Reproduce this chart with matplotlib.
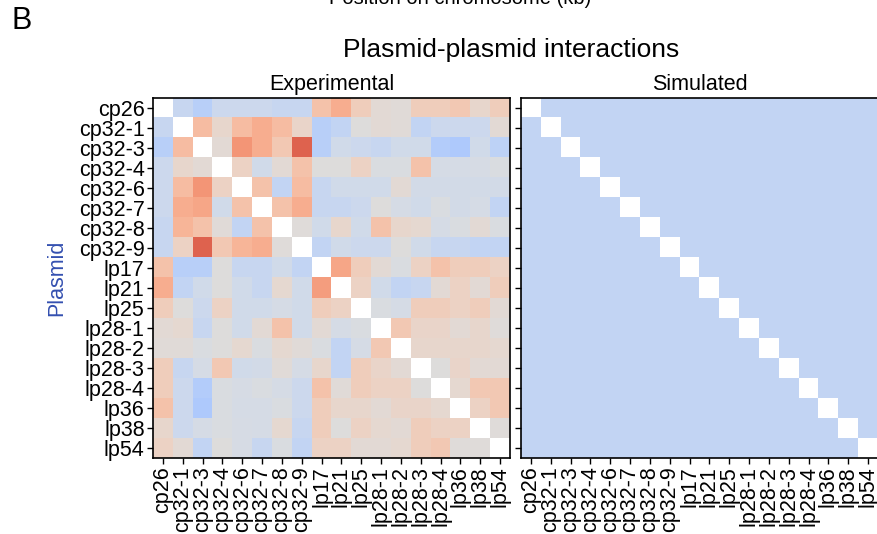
import matplotlib
matplotlib.use("Agg")
import matplotlib.pyplot as plt
import numpy as np
from matplotlib.colors import TwoSlopeNorm

plt.rcParams["font.family"] = ["Liberation Sans", "DejaVu Sans"]

PLASMIDS = ["cp26", "cp32-1", "cp32-3", "cp32-4", "cp32-6", "cp32-7", "cp32-8", "cp32-9",
            "lp17", "lp21", "lp25", "lp28-1", "lp28-2", "lp28-3", "lp28-4", "lp36", "lp38", "lp54"]

# experimental interaction scores (diagonal masked)
EXPERIMENTAL = [
    [np.nan, -0.25, -0.4, -0.2, -0.2, -0.2, -0.25, -0.25, 0.3, 0.45, 0.2, 0.05, 0.03, 0.2, 0.2, 0.25, 0.1, 0.2],
    [-0.25, np.nan, 0.35, 0.1, 0.35, 0.45, 0.35, 0.12, -0.4, -0.3, 0.0, 0.05, 0.03, -0.3, -0.2, -0.2, -0.2, 0.05],
    [-0.4, 0.35, np.nan, 0.05, 0.6, 0.45, 0.25, 0.85, -0.4, -0.15, -0.2, -0.25, -0.15, -0.15, -0.45, -0.5, -0.15, -0.35],
    [-0.2, 0.1, 0.05, np.nan, 0.15, -0.15, 0.05, 0.3, 0.0, 0.0, 0.15, -0.05, -0.05, 0.3, -0.1, -0.1, -0.08, -0.05],
    [-0.2, 0.35, 0.6, 0.15, np.nan, 0.3, -0.3, 0.35, -0.25, -0.15, -0.15, -0.15, 0.05, -0.12, -0.12, -0.12, -0.12, -0.12],
    [-0.2, 0.45, 0.5, -0.15, 0.3, np.nan, 0.3, 0.45, -0.25, -0.25, -0.2, 0.0, -0.1, -0.15, -0.05, -0.12, -0.1, -0.3],
    [-0.25, 0.4, 0.3, 0.03, -0.3, 0.3, np.nan, 0.02, -0.15, 0.1, -0.15, 0.3, 0.1, 0.08, -0.1, -0.05, 0.05, -0.05],
    [-0.25, 0.15, 0.85, 0.25, 0.4, 0.45, 0.02, np.nan, -0.3, -0.15, -0.2, -0.2, 0.0, -0.15, -0.25, -0.25, -0.3, -0.3],
    [0.3, -0.4, -0.4, 0.0, -0.25, -0.25, -0.15, -0.3, np.nan, 0.5, 0.2, 0.05, -0.05, 0.15, 0.3, 0.2, 0.2, 0.15],
    [0.45, -0.3, -0.15, 0.0, -0.15, -0.25, 0.08, -0.15, 0.55, np.nan, 0.15, -0.15, -0.3, -0.25, 0.05, 0.15, 0.05, 0.2],
    [0.2, 0.0, -0.2, 0.15, -0.15, -0.15, -0.1, -0.15, 0.2, 0.15, np.nan, -0.05, -0.1, 0.2, 0.2, 0.15, 0.2, 0.05],
    [0.05, 0.08, -0.25, 0.0, -0.15, 0.05, 0.3, -0.15, 0.05, -0.1, -0.05, np.nan, 0.25, 0.12, 0.12, 0.05, 0.1, 0.02],
    [0.03, 0.03, -0.05, 0.0, 0.08, -0.05, 0.08, 0.03, -0.05, -0.3, -0.1, 0.25, np.nan, 0.1, 0.1, 0.1, 0.1, 0.08],
    [0.2, -0.25, -0.1, 0.25, -0.15, -0.12, 0.03, -0.1, 0.1, -0.3, 0.2, 0.12, 0.05, np.nan, 0.0, 0.12, 0.05, 0.05],
    [0.2, -0.2, -0.45, -0.05, -0.08, -0.05, -0.1, -0.2, 0.3, 0.03, 0.2, 0.15, 0.15, 0.0, np.nan, 0.08, 0.25, 0.25],
    [0.3, -0.2, -0.5, -0.05, -0.1, -0.1, -0.05, -0.2, 0.2, 0.1, 0.1, 0.05, 0.12, 0.12, 0.08, np.nan, 0.15, 0.25],
    [0.1, -0.2, -0.1, -0.05, -0.08, -0.1, 0.08, -0.25, 0.2, 0.0, 0.15, 0.08, 0.05, 0.2, 0.15, 0.15, np.nan, 0.02],
    [0.15, 0.05, -0.3, 0.0, -0.08, -0.25, -0.05, -0.3, 0.15, 0.15, 0.05, 0.05, 0.08, 0.2, 0.25, 0.02, 0.02, np.nan],
]

# simulated off-diagonal score (uniform)
SIMULATED_OFFDIAG = -0.3


def main():
    exp = np.array(EXPERIMENTAL, dtype=float)
    n = len(PLASMIDS)
    sim = np.full((n, n), SIMULATED_OFFDIAG)
    sim[np.eye(n, dtype=bool)] = np.nan

    cmap = plt.get_cmap("coolwarm").copy()
    cmap.set_bad("white")
    norm = TwoSlopeNorm(vcenter=0.0, vmin=-1.6, vmax=1.15)

    fig = plt.figure(figsize=(8.78, 5.34), dpi=100)
    ax_exp = fig.add_axes([0.1743, 0.1423, 0.4066, 0.6742])
    ax_sim = fig.add_axes([0.5934, 0.1423, 0.4066, 0.6742])

    ticks = np.arange(n)
    for ax, data in ((ax_exp, exp), (ax_sim, sim)):
        ax.imshow(data, cmap=cmap, norm=norm, aspect="auto", interpolation="nearest")
        ax.set_xticks(ticks, PLASMIDS, rotation=90, fontsize=15.5)
        ax.tick_params(axis="both", length=4, width=1, pad=2)
        for side in ax.spines.values():
            side.set_linewidth(1.2)

    ax_exp.set_yticks(ticks, PLASMIDS, fontsize=15.5)
    ax_sim.set_yticks(ticks, [""] * n)

    ax_exp.set_title("Experimental", fontsize=15.5, pad=6)
    ax_sim.set_title("Simulated", fontsize=15.5, pad=6)
    ax_exp.set_ylabel("Plasmid", fontsize=15.5, color="#3450b0", labelpad=8)

    fig.text(0.582, 0.906, "Plasmid-plasmid interactions", ha="center", va="center", fontsize=19)
    fig.text(0.013, 0.960, "B", ha="left", va="center", fontsize=22)
    fig.text(0.524, 0.992, "Position on chromosome (kb)", ha="center", va="baseline", fontsize=14.5)

    fig.savefig("out.png", dpi=100, facecolor="white")
    plt.close(fig)


if __name__ == "__main__":
    main()
